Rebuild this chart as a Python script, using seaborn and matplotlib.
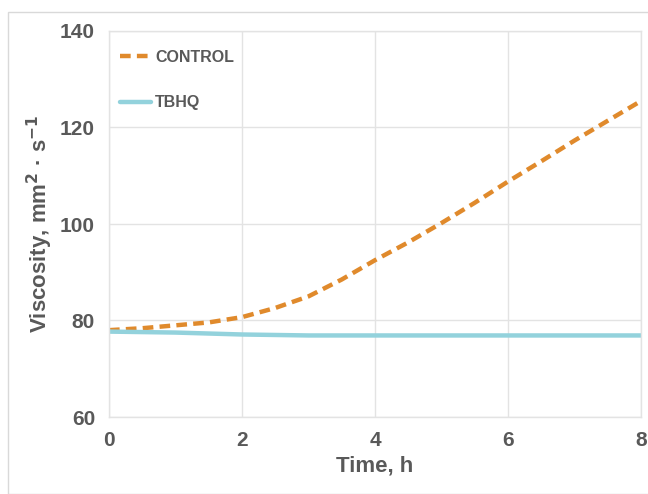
import pandas as pd
import matplotlib.pyplot as plt
import seaborn as sns
from matplotlib.patches import Rectangle

# Data
time_h = [0, 0.5, 1, 1.5, 2, 2.5, 3, 3.5, 4, 4.5, 5, 5.5, 6, 6.5, 7, 7.5, 8]
control = [78.0, 78.4, 79.0, 79.6, 80.7, 82.6, 85.0, 88.5, 92.5, 96.2, 100.2,
           104.4, 108.8, 113.0, 117.3, 121.4, 125.5]
tbhq = [77.7, 77.6, 77.5, 77.3, 77.1, 77.0, 76.9, 76.9, 76.9, 76.9, 76.9,
        76.9, 76.9, 76.9, 76.9, 76.9, 76.9]

df = pd.DataFrame({
    'time': time_h * 2,
    'viscosity': control + tbhq,
    'series': ['CONTROL'] * len(time_h) + ['TBHQ'] * len(time_h),
})

sns.set_style("white")
plt.rcParams['font.family'] = ['Liberation Sans', 'DejaVu Sans']
text_col = '#595959'
grid_col = '#e3e3e3'

fig = plt.figure(figsize=(6.48, 4.94), dpi=100)
ax = fig.add_axes([109 / 648, 1 - 417 / 494, (641 - 109) / 648, (417 - 31) / 494])

sns.lineplot(data=df, x='time', y='viscosity', hue='series', style='series',
             palette={'CONTROL': '#e08a2c', 'TBHQ': '#93d2dc'},
             dashes={'CONTROL': (2.4, 1.4), 'TBHQ': ''},
             linewidth=3.2, ax=ax)

ax.set_xlim(0, 8)
ax.set_ylim(60, 140)
ax.set_xticks([0, 2, 4, 6, 8])
ax.set_yticks([60, 80, 100, 120, 140])
ax.grid(True, color=grid_col, linewidth=1)
for s in ax.spines.values():
    s.set_color(grid_col)
    s.set_linewidth(1)
ax.tick_params(axis='both', length=0, labelsize=15, labelcolor=text_col, pad=10)
for lab in ax.get_xticklabels() + ax.get_yticklabels():
    lab.set_fontweight('bold')

ax.set_xlabel('Time, h', fontsize=16, fontweight='bold', color=text_col, labelpad=4)
ax.set_ylabel('Viscosity, mm$^\\mathbf{2}$ · s$^\\mathbf{-1}$', fontsize=16,
              fontweight='bold', color=text_col, labelpad=4)

leg = ax.legend(loc='upper left', frameon=False, fontsize=11.5, handlelength=1.9,
                handletextpad=0.3, labelspacing=1.9, borderaxespad=0.3,
                bbox_to_anchor=(0.0, 0.98))
for t in leg.get_texts():
    t.set_fontweight('bold')
    t.set_color(text_col)
for h in leg.get_lines():
    h.set_linewidth(3.2)

# light frame around the whole figure
fig.patches.append(Rectangle((8 / 648, 0), 1, 1 - 12 / 494, transform=fig.transFigure,
                             fill=False, edgecolor='#d9d9d9', linewidth=1))

plt.savefig('out.png', dpi=100)
plt.close()
